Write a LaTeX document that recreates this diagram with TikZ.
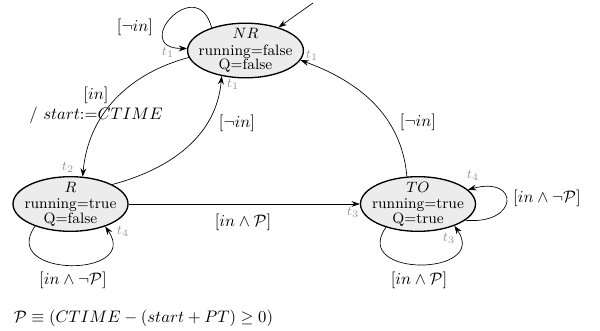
\documentclass[tikz,border=0pt]{standalone}
\usepackage{amsmath}
\usepackage{amssymb}
\usepackage{tikz}
\usetikzlibrary{arrows.meta, positioning, shapes.geometric}

\begin{document}
\begin{tikzpicture}[x=0.6pt,y=-0.6pt,
  state/.style={ellipse,draw,thick,fill=gray!15,minimum width=69pt,minimum height=32.8pt,
    inner xsep=-3.6pt,inner ysep=-3.4pt,align=center,font=\small},
  trans/.style={-{Stealth[length=5pt,width=3.5pt]}},
  tlab/.style={font=\footnotesize,text=gray!80}]
  \useasboundingbox (0,0) rectangle (600,331);
  \node[state] (nr) at (245.5,50.5) {$NR$\\[-1pt]running=false\\[-2.5pt]Q=false};
  \node[state] (r)  at (70.5,204) {$R$\\[-1pt]running=true\\[-2.5pt]Q=false};
  \node[state] (to) at (418,204) {$TO$\\[-1pt]running=true\\[-2.5pt]Q=true};
  \coordinate (init) at (313,3);
  \draw[trans] (init) -- (nr.35);
  \draw[trans] (nr.146) to[out=105,in=180,looseness=4.6] (nr.178);
  \draw[trans] (nr.187) to[out=195,in=85] (r.66);
  \draw[trans] (r.25) to[out=15,in=265] (nr.227);
  \draw[trans] (to.112) to[out=95,in=340] (nr.350);
  \draw[trans] (r.east) -- (to.west);
  \draw[trans] (r.212) to[out=235,in=305,looseness=2.3] (r.327);
  \draw[trans] (to.341) to[out=-5,in=15,looseness=4.5] (to.16);
  \draw[trans] (to.216) to[out=235,in=305,looseness=2.3] (to.329);
  \node (lnr)  at (135,27)  {$[\neg in]$};
  \node[align=center] (lstart) at (96,105) {$[in]$\\$/\ start{:}{=}CTIME$};
  \node (lrnr) at (237,123) {$[\neg in]$};
  \node (ltonr) at (418,122) {$[\neg in]$};
  \node (lrto) at (243,222) {$[in\wedge\mathcal{P}]$};
  \node (lr)   at (73,280)  {$[in\wedge\neg\mathcal{P}]$};
  \node (ltor) at (547,198) {$[in\wedge\neg\mathcal{P}]$};
  \node (ltob) at (419,280) {$[in\wedge\mathcal{P}]$};
  \node[tlab] (ta) at (168,52)  {$t_1$};
  \node[tlab] (tb) at (312,55)  {$t_1$};
  \node[tlab] (tc) at (233,84)  {$t_1$};
  \node[tlab] (td) at (68,167)  {$t_2$};
  \node[tlab] (te) at (123,231) {$t_4$};
  \node[tlab] (tf) at (353,212) {$t_3$};
  \node[tlab] (tg) at (473,175) {$t_4$};
  \node[tlab] (th) at (449,238) {$t_3$};
  \node[anchor=west] (pdef) at (8,318) {$\mathcal{P}\equiv(CTIME-(start+PT)\geq 0)$};
\end{tikzpicture}
\end{document}
